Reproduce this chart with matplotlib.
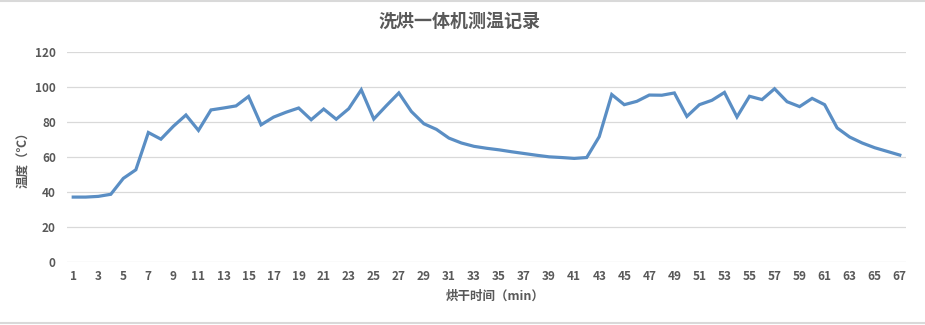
import matplotlib
matplotlib.use("Agg")
import matplotlib.pyplot as plt
from matplotlib.lines import Line2D

plt.rcParams['font.family'] = ['Noto Sans CJK SC', 'DejaVu Sans']

title = "洗烘一体机测温记录"
x_label = "烘干时间（min）"
y_label = "温度（℃）"

minutes = list(range(1, 68))
temps = [37.1, 37.1, 37.5, 38.7, 47.8, 52.7, 74.0, 70.2, 77.6, 84.0,
         75.2, 86.9, 88.0, 89.2, 94.6, 78.4, 82.8, 85.6, 88.0, 81.3,
         87.4, 81.6, 87.6, 98.4, 81.7, 89.3, 96.6, 86.0, 79.0, 75.8,
         70.8, 68.0, 66.1, 65.0, 64.1, 63.0, 62.0, 61.0, 60.1, 59.7,
         59.2, 59.7, 71.6, 95.7, 89.9, 91.8, 95.4, 95.3, 96.6, 83.2,
         89.9, 92.4, 96.9, 82.9, 94.7, 92.8, 99.0, 91.6, 88.8, 93.5,
         89.9, 76.6, 71.4, 68.0, 65.3, 63.2, 61.1]
y_ticks = [0, 20, 40, 60, 80, 100, 120]
x_tick_labels = [str(m) for m in range(1, 68, 2)]

text_color = '#595959'
grid_color = '#D9D9D9'
line_color = '#5A8EC4'

fig = plt.figure(figsize=(9.25, 3.25), dpi=100)
ax = fig.add_axes([0.0724, 0.1938, 0.9071, 0.6462])

ax.plot(minutes, temps, color=line_color, lw=2.3, solid_joinstyle='miter', zorder=3)

ax.set_xlim(0.5, 67.5)
ax.set_ylim(0, 120)
ax.set_yticks(y_ticks)
ax.set_yticklabels([str(t) for t in y_ticks])
ax.set_xticks(list(range(1, 68, 2)))
ax.set_xticklabels(x_tick_labels)

for t in y_ticks:
    ax.axhline(t, color=grid_color, lw=0.9, zorder=1)

for s in ax.spines.values():
    s.set_visible(False)
ax.tick_params(axis='both', length=0, labelsize=8.5, colors=text_color)
ax.tick_params(axis='y', pad=8)
ax.tick_params(axis='x', pad=6)
for lab in ax.get_xticklabels() + ax.get_yticklabels():
    lab.set_fontweight('bold')

ax.set_xlabel(x_label, fontsize=9, fontweight='bold', color=text_color, labelpad=4)
ax.xaxis.set_label_coords(0.51, -0.13)
ax.set_ylabel(y_label, fontsize=9, fontweight='bold', color=text_color)
ax.yaxis.set_label_coords(-0.044, 0.5)

fig.text(0.497, 0.935, title, ha='center', va='center', fontsize=13,
         fontweight='bold', color=text_color)

# light frame lines of the surrounding sheet
fig.add_artist(Line2D([0, 1], [0.997, 0.997], color='#D9D9D9', lw=1.5))
fig.add_artist(Line2D([0, 1], [0.006, 0.006], color='#D9D9D9', lw=1.5))

fig.savefig('out.png', dpi=100, facecolor='white')
